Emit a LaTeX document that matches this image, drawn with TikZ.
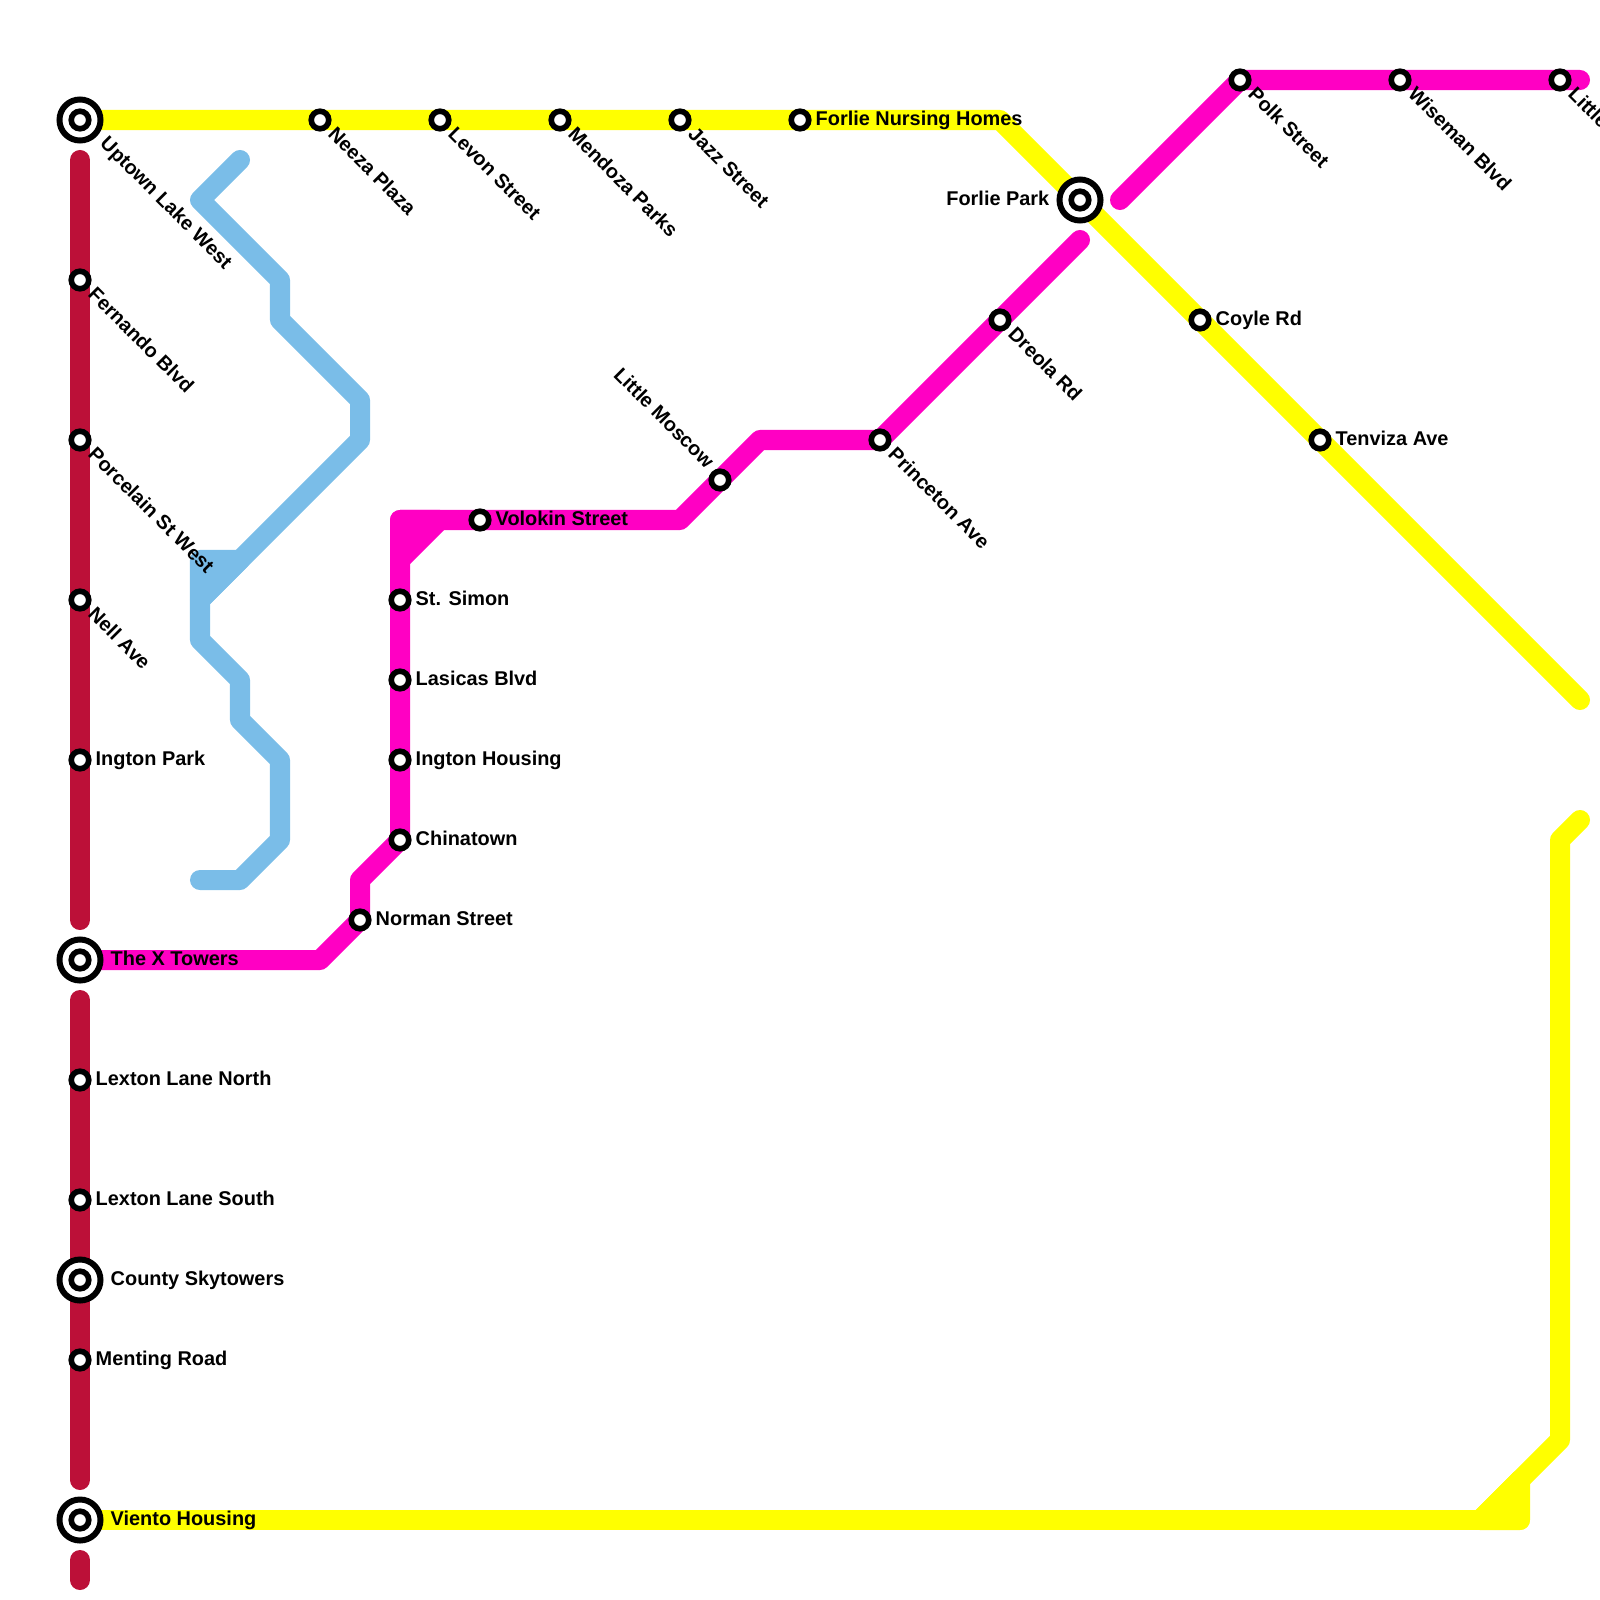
\documentclass[tikz,border=0pt]{standalone}
\usepackage{fontspec}
\setmainfont{Liberation Sans}
\usetikzlibrary{backgrounds}
\definecolor{metroyellow}{HTML}{FFFF00}
\definecolor{metromagenta}{HTML}{FF00C3}
\definecolor{metrored}{HTML}{BC1038}
\definecolor{metroblue}{HTML}{7ABDE8}
\tikzset{
  metroline/.style={line width=5.69pt,line cap=round,line join=round},
  station/.style={circle,draw=black,fill=white,line width=1.6pt,minimum size=0.175cm,inner sep=0pt},
  hub/.style={circle,draw=black,fill=white,line width=1.7pt,minimum size=0.41cm,inner sep=0pt},
  txt/.style={font=\bfseries\fontsize{5.66pt}{6.8pt}\selectfont,inner sep=0pt,text=black},
  txtright/.style={txt,anchor=base west,xshift=0.15cm,yshift=-0.05cm},
  txthub/.style={txt,anchor=base west,xshift=0.3cm,yshift=-0.05cm},
  txtleft/.style={txt,anchor=base east,xshift=-0.3cm,yshift=-0.05cm},
  txtdown/.style={txt,rotate=-45,anchor=base west,xshift=0.155cm,yshift=-0.06cm},
  txtup/.style={txt,rotate=-45,anchor=base east,xshift=-0.17cm,yshift=-0.025cm},
  txthubdown/.style={txt,rotate=-45,anchor=base west,xshift=0.305cm,yshift=-0.04cm}
}
\begin{document}
\begin{tikzpicture}[x=0.01cm,y=-0.01cm]
  \useasboundingbox (0,0) rectangle (1600,1600);
  \coordinate (ybend1) at (1000,120);
  \coordinate (yend1) at (1580,700);
  \coordinate (ystart2) at (1520,1520);
  \coordinate (ystub) at (1520,1480);
  \coordinate (yfork) at (1480,1520);
  \coordinate (ybend2) at (1560,1440);
  \coordinate (ybend3) at (1560,840);
  \coordinate (yend2) at (1580,820);
  \coordinate (rtop1) at (80,160);
  \coordinate (rbot1) at (80,920);
  \coordinate (rtop2) at (80,1000);
  \coordinate (rbot2) at (80,1480);
  \coordinate (rtop3) at (80,1560);
  \coordinate (rbot3) at (80,1580);
  \coordinate (b0) at (240,160);
  \coordinate (b1) at (200,200);
  \coordinate (b2) at (280,280);
  \coordinate (b3) at (280,320);
  \coordinate (b4) at (360,400);
  \coordinate (b5) at (360,440);
  \coordinate (b6) at (240,560);
  \coordinate (b7) at (200,600);
  \coordinate (b8) at (200,560);
  \coordinate (b9) at (200,640);
  \coordinate (b10) at (240,680);
  \coordinate (b11) at (240,720);
  \coordinate (b12) at (280,760);
  \coordinate (b13) at (280,840);
  \coordinate (b14) at (240,880);
  \coordinate (b15) at (200,880);
  \coordinate (m1) at (320,960);
  \coordinate (m2) at (360,880);
  \coordinate (m3) at (400,520);
  \coordinate (m4) at (440,520);
  \coordinate (m5) at (400,560);
  \coordinate (m6) at (680,520);
  \coordinate (m7) at (760,440);
  \coordinate (m8) at (1080,240);
  \coordinate (m9) at (1120,200);
  \coordinate (m10) at (1580,80);
  \node (uptownring) [hub] at (80,120) {};
  \node (uptown) [station] at (80,120) {};
  \node (neeza) [station] at (320,120) {};
  \node (levon) [station] at (440,120) {};
  \node (mendoza) [station] at (560,120) {};
  \node (jazz) [station] at (680,120) {};
  \node (nursing) [station] at (800,120) {};
  \node (forlieparkring) [hub] at (1080,200) {};
  \node (forliepark) [station] at (1080,200) {};
  \node (coyle) [station] at (1200,320) {};
  \node (tenviza) [station] at (1320,440) {};
  \node (polk) [station] at (1240,80) {};
  \node (wiseman) [station] at (1400,80) {};
  \node (little) [station] at (1560,80) {};
  \node (dreola) [station] at (1000,320) {};
  \node (princeton) [station] at (880,440) {};
  \node (moscow) [station] at (720,480) {};
  \node (volokin) [station] at (480,520) {};
  \node (simon) [station] at (400,600) {};
  \node (lasicas) [station] at (400,680) {};
  \node (housing) [station] at (400,760) {};
  \node (chinatown) [station] at (400,840) {};
  \node (norman) [station] at (360,920) {};
  \node (fernando) [station] at (80,280) {};
  \node (porcelain) [station] at (80,440) {};
  \node (nell) [station] at (80,600) {};
  \node (ington) [station] at (80,760) {};
  \node (xtowersring) [hub] at (80,960) {};
  \node (xtowers) [station] at (80,960) {};
  \node (lextonn) [station] at (80,1080) {};
  \node (lextons) [station] at (80,1200) {};
  \node (countyring) [hub] at (80,1280) {};
  \node (county) [station] at (80,1280) {};
  \node (menting) [station] at (80,1360) {};
  \node (vientoring) [hub] at (80,1520) {};
  \node (viento) [station] at (80,1520) {};
  \begin{scope}[on background layer]
    \draw [metroline,metrored] (rtop1) -- (rbot1);
    \draw [metroline,metrored] (rtop2) -- (rbot2);
    \draw [metroline,metrored] (rtop3) -- (rbot3);
    \draw [metroline,metroyellow] (uptown.center) -- (ybend1) -- (yend1);
    \draw [metroline,metroyellow] (viento.center) -- (ystart2) -- (ystub);
    \draw [metroline,metroyellow] (yfork) -- (ybend2) -- (ybend3) -- (yend2);
    \draw [metroline,metroyellow,fill=metroyellow] (yfork) -- (ystart2) -- (ystub) -- cycle;
    \draw [metroline,metroblue] (b0) -- (b1) -- (b2) -- (b3) -- (b4) -- (b5) -- (b7) -- (b9) -- (b10) -- (b11) -- (b12) -- (b13) -- (b14) -- (b15);
    \draw [metroline,metroblue,fill=metroblue] (b8) -- (b6) -- (b7) -- cycle;
    \draw [metroline,metromagenta] (xtowers.center) -- (m1) -- (norman.center) -- (m2) -- (chinatown.center) -- (m3) -- (m6) -- (m7) -- (princeton.center) -- (m8);
    \draw [metroline,metromagenta,fill=metromagenta] (m3) -- (m4) -- (m5) -- cycle;
    \draw [metroline,metromagenta] (m9) -- (polk.center) -- (m10);
  \end{scope}
  \node (uptowntxt) [txthubdown] at (uptown) {Uptown Lake West};
  \node (neezatxt) [txtdown] at (neeza) {Neeza Plaza};
  \node (levontxt) [txtdown] at (levon) {Levon Street};
  \node (mendozatxt) [txtdown] at (mendoza) {Mendoza Parks};
  \node (jazztxt) [txtdown] at (jazz) {Jazz Street};
  \node (nursingtxt) [txtright] at (nursing) {Forlie Nursing Homes};
  \node (forlieparktxt) [txtleft] at (forliepark) {Forlie Park};
  \node (coyletxt) [txtright] at (coyle) {Coyle Rd};
  \node (tenvizatxt) [txtright] at (tenviza) {Tenviza Ave};
  \node (polktxt) [txtdown] at (polk) {Polk Street};
  \node (wisemantxt) [txtdown] at (wiseman) {Wiseman Blvd};
  \node (littletxt) [txtdown] at (little) {Little};
  \node (dreolatxt) [txtdown] at (dreola) {Dreola Rd};
  \node (princetontxt) [txtdown] at (princeton) {Princeton Ave};
  \node (moscowtxt) [txtup] at (moscow) {Little Moscow};
  \node (volokintxt) [txtright] at (volokin) {Volokin Street};
  \node (simontxt) [txtright] at (simon) {St. Simon};
  \node (lasicastxt) [txtright] at (lasicas) {Lasicas Blvd};
  \node (housingtxt) [txtright] at (housing) {Ington Housing};
  \node (chinatowntxt) [txtright] at (chinatown) {Chinatown};
  \node (normantxt) [txtright] at (norman) {Norman Street};
  \node (fernandotxt) [txtdown] at (fernando) {Fernando Blvd};
  \node (porcelaintxt) [txtdown] at (porcelain) {Porcelain St West};
  \node (nelltxt) [txtdown] at (nell) {Nell Ave};
  \node (ingtontxt) [txtright] at (ington) {Ington Park};
  \node (xtowerstxt) [txthub] at (xtowers) {The X Towers};
  \node (lextonntxt) [txtright] at (lextonn) {Lexton Lane North};
  \node (lextonstxt) [txtright] at (lextons) {Lexton Lane South};
  \node (countytxt) [txthub] at (county) {County Skytowers};
  \node (mentingtxt) [txtright] at (menting) {Menting Road};
  \node (vientotxt) [txthub] at (viento) {Viento Housing};
\end{tikzpicture}
\end{document}
